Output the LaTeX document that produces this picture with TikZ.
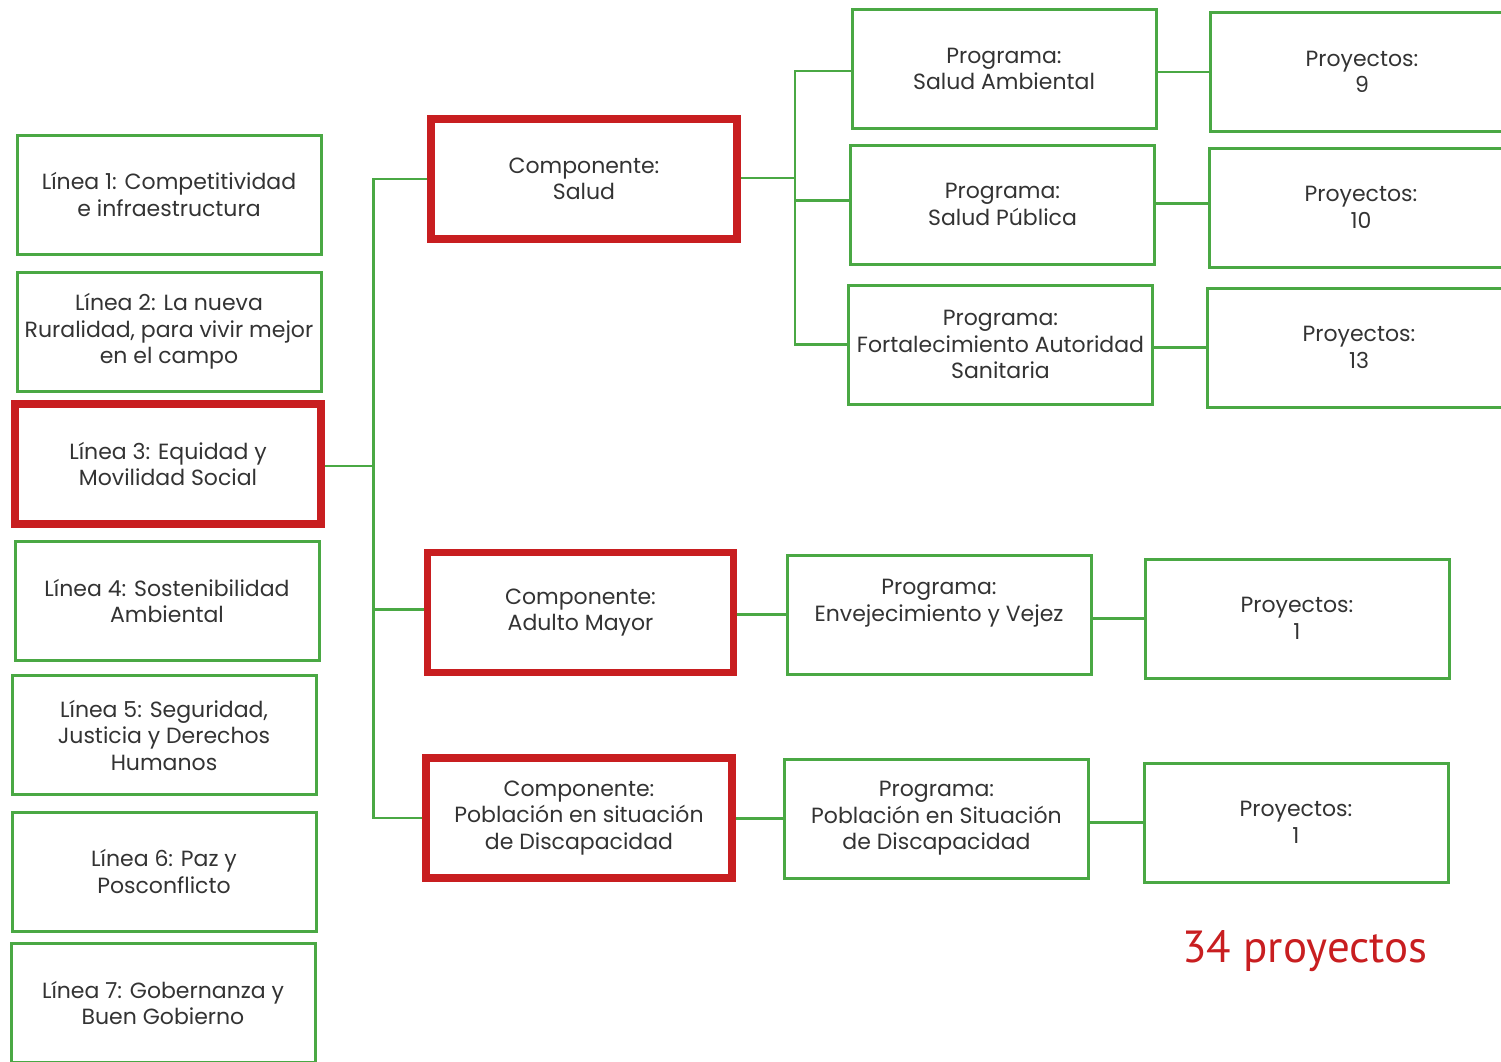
\documentclass[tikz,border=0pt]{standalone}
\usepackage{fontspec}
\setmainfont{Poppins}
\newfontfamily\totalfont{PT Sans}
\definecolor{verde}{RGB}{74,168,68}
\definecolor{rojo}{RGB}{200,30,32}
\definecolor{texto}{RGB}{51,51,51}
\begin{document}
\begin{tikzpicture}[x=1pt, y=-1pt,
	caja/.style={rectangle, draw=verde, line width=3pt, minimum width=304pt, minimum height=119pt,
		align=center, text=texto, inner sep=2pt, font=\fontsize{22}{26.5}\selectfont},
	cajaroja/.style={caja, draw=rojo, line width=7.5pt, minimum width=306pt, minimum height=120pt},
	linea/.style={draw=verde, line width=2.5pt}]
	    \useasboundingbox (0,0) rectangle (1501,1061);
	    \clip (0,0) rectangle (1501,1061);
	    % lineas
	    \node[caja] (l1) at (169, 194.5) {Línea 1: Competitividad\\e infraestructura};
	    \node[caja] (l2) at (169, 331.5) {Línea 2: La nueva\\Ruralidad, para vivir mejor\\en el campo};
	    \node[cajaroja] (l3) at (168, 464) {Línea 3: Equidad y\\Movilidad Social};
	    \node[caja] (l4) at (167, 601) {Línea 4: Sostenibilidad\\Ambiental};
	    \node[caja] (l5) at (164, 735) {Línea 5: Seguridad,\\Justicia y Derechos\\Humanos};
	    \node[caja] (l6) at (164, 871.5) {Línea 6: Paz y\\Posconflicto};
	    \node[caja] (l7) at (163, 1003) {Línea 7: Gobernanza y\\Buen Gobierno};
	    % componentes
	    \node[cajaroja] (c1) at (584, 179) {Componente:\\Salud};
	    \node[cajaroja] (c2) at (580.5, 612.5) {Componente:\\Adulto Mayor};
	    \node[cajaroja] (c3) at (579, 818) {Componente:\\Población en situación\\de Discapacidad};
	    % programas
	    \node[caja] (p1) at (1004, 69) {Programa:\\Salud Ambiental};
	    \node[caja] (p2) at (1002.5, 204.5) {Programa:\\Salud Pública};
	    \node[caja] (p3) at (1000.5, 344.5) {Programa:\\Fortalecimiento Autoridad\\Sanitaria};
	    \node[caja] (p4) at (939, 614.5) {Programa:\\Envejecimiento y Vejez\\[-6pt]\strut};
	    \node[caja] (p5) at (936.5, 818.5) {Programa:\\Población en Situación\\de Discapacidad};
	    % proyectos
	    \node[caja] (r1) at (1362, 72) {Proyectos:\\9};
	    \node[caja] (r2) at (1361, 207.5) {Proyectos:\\10};
	    \node[caja] (r3) at (1359, 347.5) {Proyectos:\\13};
	    \node[caja] (r4) at (1297, 618.5) {Proyectos:\\1};
	    \node[caja] (r5) at (1296, 822.5) {Proyectos:\\1};
	    \node[text=rojo, font=\totalfont\fontsize{45}{50}\selectfont] (total) at (1305, 951) {34 proyectos};
	    % conectores
	    \coordinate (b1) at (373.5, 466);
	    \coordinate (b2) at (795, 178);
	    \draw[linea] (l3.east |- b1) -- (b1);
	    \draw[linea] (c1.west) -| (b1 |- c3.west) -- (c3.west);
	    \draw[linea] ([yshift=3pt]c2.west) -- ([yshift=3pt]c2.west -| b1);
	    \draw[linea] (c1.east |- b2) -- (b2);
	    \draw[linea] ([yshift=-2pt]p1.west) -| (b2 |- p3.west) -- (p3.west);
	    \draw[linea] ([yshift=4pt]p2.west) -- ([yshift=4pt]p2.west -| b2);
	    \draw[linea] (p1.east |- r1.west) -- (r1.west);
	    \draw[linea] ([yshift=4pt]p2.east |- r2.west) -- ([yshift=4pt]r2.west);
	    \draw[linea] (p3.east |- r3.west) -- (r3.west);
	    \draw[linea] (c2.east |- p4.west) -- (p4.west);
	    \draw[linea] (p4.east |- r4.west) -- (r4.west);
	    \draw[linea] (c3.east |- p5.west) -- (p5.west);
	    \draw[linea] (p5.east |- r5.west) -- (r5.west);
	\end{tikzpicture}
\end{document}
